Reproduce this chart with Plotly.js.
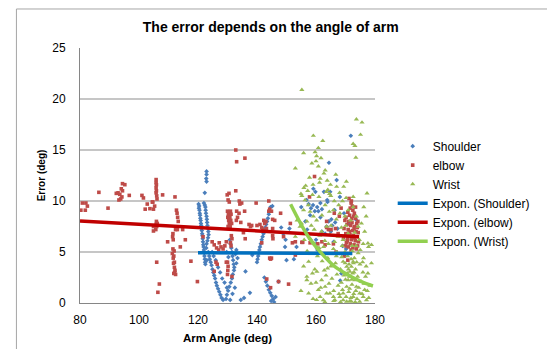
<!DOCTYPE html>
<html>
<head>
<meta charset="utf-8">
<script src="https://cdn.plot.ly/plotly-3.0.1.min.js"></script>
<style>html,body{margin:0;padding:0;background:#fff;}#chart{width:547px;height:349px;}</style>
</head>
<body>
<div id="chart"></div>
<script>
// ---- data ----
var seriesNames = ["Shoulder", "elbow", "Wrist"];
var trendNames = ["Expon. (Shoulder)", "Expon. (elbow)", "Expon. (Wrist)"];

var shoulderPts = [
[122.9,12.9],[122.9,12.6],[122.8,12.2],[122.9,11.9],[122.3,10.8],
[120.2,9.7],[120.4,9.5],[120.3,9.3],[120.5,9.1],[120.6,8.8],[120.7,8.6],[120.8,8.3],[120.9,8.1],[121.0,7.8],[121.1,7.6],[121.2,7.3],[121.3,7.1],[121.4,6.8],[121.5,6.6],[121.6,6.3],[121.7,6.0],[121.8,5.7],[121.9,5.5],[122.0,5.2],[122.1,4.9],[122.2,4.6],[122.3,4.3],[122.4,4.0],[122.5,3.8],
[122.0,9.8],[122.3,9.6],[122.5,9.4],[122.6,9.1],[122.7,8.8],[122.9,8.5],[123.0,8.2],[123.1,7.9],[123.2,7.6],[123.4,7.3],[123.5,7.0],[123.6,6.7],[123.4,6.4],[123.2,6.1],[122.9,5.8],[122.8,5.4],[123.0,4.2],
[123.5,5.0],[123.8,4.6],[124.0,4.3],[124.3,4.0],[124.6,3.7],[124.9,3.3],[125.2,3.0],[125.5,2.7],[125.8,2.4],[126.1,2.0],[126.4,1.7],[126.8,1.4],[127.2,1.1],[127.6,0.8],[128.0,0.5],[128.5,0.3],
[124.8,5.0],[125.3,4.6],[126.0,4.2],[126.8,3.5],[127.5,3.0],[128.2,2.4],[129.0,2.0],[129.8,1.5],
[130.8,6.2],[131.0,5.8],[131.3,5.4],[131.5,5.0],[131.7,4.6],[131.9,4.2],[132.1,3.8],[132.3,3.5],[132.2,3.2],[131.8,2.8],[131.5,2.4],[131.1,2.0],[130.6,1.6],[130.2,1.2],[129.8,0.8],[129.5,0.4],[130.9,0.3],[131.7,0.9],[132.5,1.5],[133.0,5.2],[132.7,4.8],[133.4,4.4],[133.0,3.9],[130.3,4.5],[129.7,5.0],
[135.6,0.5],[136.1,3.1],[134.5,0.3],[138.4,4.7],[137.6,1.0],
[140.0,4.0],[140.2,4.3],[140.4,4.6],[140.6,4.9],[140.8,5.2],[141.0,5.5],[141.3,5.8],
[141.6,6.2],[141.9,6.5],[142.2,6.8],[142.5,7.1],[142.8,7.4],[143.1,7.7],[143.4,8.0],[143.7,8.3],[144.0,8.7],[144.3,9.0],[144.6,9.4],[145.2,9.5],
[142.5,2.5],[143.0,2.1],[143.5,1.7],[144.0,1.3],[144.5,1.0],[145.0,0.7],[145.5,0.4],[145.8,0.1],[146.3,0.6],[144.8,0.2],[147.3,2.1],
[148.2,7.4],[148.9,6.8],[149.7,6.2],
[149.5,5.5],[150.0,4.2],[151.0,7.3],[152.5,4.3],[153.4,5.5],[155.0,9.4],[156.4,8.0],[157.0,7.2],[158.0,8.6],[159.1,11.2],[159.8,10.9],[160.0,6.2],[160.1,5.8],[160.3,5.4],[160.5,5.2],[160.8,9.0],[161.5,8.4],[162.0,7.0],[162.7,10.9],[163.1,6.8],[163.8,10.1],[163.9,9.9],[164.4,13.75],[164.8,10.9],[165.2,8.2],[165.5,7.6],[166.0,6.0],[166.3,9.1],[167.0,12.05],[167.3,7.3],[168.1,10.4],[168.2,2.2],[168.6,2.9],[169.0,5.6],[169.5,8.8],[170.2,5.3],[171.0,7.8],[171.8,16.4],[172.5,6.4],[173.5,8.2],
[156.8,10.1],[157.5,9.7],[158.3,9.3],[159.0,9.6],[159.6,9.0],[160.4,9.4],[161.5,9.8],[162.0,9.2],
[163.6,7.5],[164.3,8.0],[165.0,7.0],[166.5,7.9]
];

var elbowPts = [
[80.3,9.1],[80.8,9.8],[82.0,9.8],[82.5,9.5],[81.8,9.1],[86.4,10.85],[89.5,9.3],
[94.4,11.7],[95.2,11.6],[94.0,11.2],[94.4,11.0],[92.9,10.8],[92.3,10.75],[93.5,10.65],[93.8,10.2],[93.2,10.1],[96.7,10.55],[94.2,10.4],
[101.0,10.55],[101.5,10.3],[102.8,9.7],[104.5,9.9],[102.1,9.2],[103.7,9.25],[104.9,9.2],[104.9,7.5],[104.9,7.06],[104.7,9.9],[105.3,9.5],
[105.8,12.1],[105.8,11.8],[105.9,11.6],[105.8,11.3],[105.9,11.0],[105.8,10.8],[106.0,10.5],[106.1,10.2],
[105.9,8.0],[105.8,7.7],[106.0,7.5],[105.7,7.2],[106.2,7.8],
[108.0,10.6],[106.0,4.0],[106.9,1.86],[106.4,1.05],
[112.7,9.1],[112.9,8.8],[113.1,8.4],[113.3,8.0],[112.4,7.2],[113.0,7.2],[111.5,6.8],[111.4,6.5],[111.6,6.2],[114.8,7.2],[115.7,6.2],[109.7,6.0],[114.0,5.5],
[111.5,5.3],[111.9,5.1],[111.3,4.85],[111.8,4.6],[111.6,4.4],[112.0,4.0],[111.7,3.9],[112.0,3.5],[112.2,3.2],[112.1,3.0],[112.4,2.8],[111.8,2.9],
[112.2,10.4],[117.6,4.1],[119.8,2.1],[121.7,6.5],
[124.8,6.0],[125.5,5.7],[126.3,5.4],[127.2,5.9],[127.8,5.5],[127.0,5.2],[128.5,5.3],[129.1,5.6],[129.6,6.0],[126.1,4.0],[126.5,3.8],[125.5,3.1],
[130.5,10.75],[130.2,10.1],[130.0,9.0],[130.3,8.7],[130.1,8.4],[130.4,8.1],[130.6,7.8],[130.2,7.5],[130.0,4.0],[130.2,3.6],[130.1,3.2],[130.0,2.8],
[132.8,15.0],[133.1,13.85],[135.9,14.2],[129.9,10.6],[132.8,11.0],[130.6,9.9],
[131.0,9.0],[131.2,8.7],[130.8,8.4],[131.1,8.1],[131.4,7.8],[130.9,7.5],
[134.0,10.0],[134.8,9.8],[134.2,9.7],
[133.1,9.0],[133.9,8.8],[133.4,8.4],[133.0,8.1],[134.5,7.9],
[131.3,6.6],[131.5,6.3],[131.0,5.9],[131.2,5.6],[129.6,4.0],[131.5,2.6],
[135.8,9.0],[139.7,9.8],[144.0,10.0],[144.3,9.2],[144.0,9.0],[144.9,9.0],
[137.3,7.7],[138.2,7.6],[137.8,7.5],[142.3,8.1],[143.0,8.0],[142.6,7.8],
[140.0,7.6],[141.0,7.7],[141.6,7.4],[142.0,7.2],[143.2,7.3],
[145.3,8.2],[146.0,8.1],[148.0,8.8],[145.3,7.3],[145.3,6.6],[145.4,6.3],
[135.4,6.9],[136.0,6.3],[151.3,7.8],[149.0,6.5],[152.0,5.9],[153.0,6.0],[141.6,5.9],
[144.3,4.4],[144.9,4.4],[144.6,4.3],[143.3,2.35],[144.6,1.5],[147.3,2.1],[150.7,1.85],[153.0,4.7],[155.5,5.95],
[157.8,10.4],[159.5,12.4],[163.6,8.0],[164.2,7.2],[165.1,7.2],[166.6,7.3],[167.9,8.5],[163.1,5.7],[165.9,5.8],[155.2,5.95],
[171.2,10.25],[172.0,10.0],[171.9,9.8],[172.3,9.5],[171.6,9.3],[172.5,9.1],[170.8,8.9],[173.0,8.8],[171.4,8.6],[172.8,8.5],[170.2,8.4],[173.4,8.3],[169.8,8.1],[171.1,8.0],[172.2,7.9],[173.8,7.8],[170.5,7.7],[171.8,7.6],[173.1,7.5],[174.0,7.4],[169.5,7.3],[170.9,7.2],[172.4,7.1],[173.6,7.0],[174.3,6.9],[170.1,6.8],[171.5,6.7],[172.7,6.6],[173.9,6.5],[169.3,6.4],[170.7,6.3],[172.0,6.2],[173.3,6.1],[174.4,6.0],[170.3,5.9],[171.6,5.8],[172.9,5.7],[174.1,5.6],[171.0,5.5],[172.5,5.4],[173.7,5.3],[169.9,5.6],[171.3,7.0],[172.9,7.3],[173.4,9.4],[172.1,8.3],[170.6,6.1],[173.0,6.4],[171.9,5.2],[174.2,8.0],
[169.6,4.6],[170.8,4.2],[166.8,5.0],[168.5,9.3],[167.5,6.8],[166.2,8.8],[162.0,6.0],[160.6,5.8],[158.0,5.9],[163.6,7.4]
];

var wristPts = [
[155.2,20.9],[173.7,18.0],[175.6,17.7],[175.1,16.5],[172.6,15.6],[173.2,15.4],[173.5,14.25],[177.3,10.75],[178.8,5.7],[178.8,3.9],
[159.1,16.4],[162.3,15.9],[160.8,15.2],[159.7,14.8],[155.8,14.7],[160.2,14.4],[160.0,13.9],[158.6,13.7],[160.8,13.4],[153.0,13.2],[163.1,13.0],[162.7,12.7],[157.8,12.3],[161.4,12.2],
[156.5,11.5],[155.9,11.3],[159.0,11.6],[161.2,11.8],[163.5,10.9],[164.6,10.7],[165.0,10.5],[167.0,11.4],[169.4,11.4],[164.0,11.1],[154.9,10.7],[155.2,10.5],[172.6,10.4],[168.0,10.8],
[156.3,10.1],[157.4,9.6],[155.8,9.1],[158.0,8.95],[159.1,8.5],[156.9,8.0],[160.2,8.1],[163.1,9.6],[164.5,8.95],[165.9,9.1],[168.1,8.8],[169.8,8.5],[170.9,9.1],[172.6,9.4],[173.7,8.5],[174.3,7.5],[175.4,7.8],[176.5,7.0],
[163.6,7.5],[161.9,7.0],[164.7,6.7],[167.5,6.5],[169.2,6.2],[170.9,6.8],[172.4,6.5],[153.0,6.5],[154.6,7.5],[153.6,8.1],[177.6,5.85],[177.8,5.5],
[157.5,4.05],[156.9,2.58],[160.3,3.07],[161.9,2.25],[163.1,1.6],[163.6,0.95],[161.4,0.6],[162.5,0.29],[164.7,0.95],[165.9,0.6],[166.4,0.29],[168.1,0.6],[169.2,0.95],[170.4,1.6],[170.9,2.25],[171.5,3.07],[172.0,3.56],[172.6,4.05],[170.4,3.56],[169.2,4.05],[168.7,4.5],[167.0,5.0],[165.9,5.3],[169.8,5.0],[171.5,4.9],[173.2,2.25],[173.7,1.6],[174.8,0.95],[176.0,0.6],[176.5,1.3],[177.1,0.29],[174.8,0.13],[172.0,0.13],[170.4,0.13],[169.2,0.29],[157.5,0.95],[160.8,1.3],[156.9,2.25],
[158.3,1.9],[159.0,0.4],[159.6,3.3],[160.5,4.6],[161.0,5.4],[162.1,4.1],[162.8,3.2],[163.4,2.7],[164.0,4.4],[164.4,1.9],[165.0,3.6],[165.4,2.4],[166.0,1.2],[166.6,3.9],[167.1,2.8],[167.5,1.7],[167.8,0.9],[168.3,3.3],[168.6,2.0],[169.0,1.3],[169.5,2.7],[169.9,3.9],[170.2,0.6],[170.7,4.6],[171.1,1.1],[171.3,2.6],[171.8,0.5],[172.2,1.8],[172.4,2.9],[172.8,0.9],[173.0,4.4],[173.4,3.3],[173.9,0.4],[174.1,2.6],[174.5,1.5],[174.9,3.8],[175.3,2.1],[175.6,0.9],[175.9,3.0],[176.3,1.9],[176.8,2.6],[177.4,1.2],[177.9,0.5],[176.1,4.4],[175.0,5.2],[173.6,5.6],[172.3,5.1],[168.9,5.6],[166.3,6.0],[164.2,5.8],[162.6,5.5],[159.2,5.9],[158.1,6.3],[157.0,5.1],[155.8,3.6],[154.9,1.2],[158.8,2.9],[160.0,2.0],[161.6,1.5],[163.9,3.4],[166.9,4.6],[170.0,2.3],[171.0,3.3],[172.7,3.9],[174.3,4.9],[175.8,4.0],[177.6,2.9],[178.3,1.7],[177.0,3.6],[166.0,0.2],[168.3,0.1],[171.5,0.2],[173.3,0.1],[163.0,0.1],[160.2,0.3],
[165.1,7.6],[166.9,8.2],[168.6,7.4],[170.1,7.6],[171.7,8.1],[173.1,6.9],[174.7,6.2],[176.0,5.8],[163.0,6.1],[161.3,6.6],[159.4,7.2],[158.4,7.6],[162.0,8.6],[167.7,9.6],[169.0,10.0],[170.2,10.3],[166.2,10.0],[161.0,10.4],[158.8,10.6],[157.2,11.0],[176.2,9.4],[177.0,8.5],[155.1,7.8],[156.0,6.2],[163.8,12.0],[166.7,12.6],[161.7,14.2],[164.9,11.6],[170.3,11.9],
[171.4,1.4],[172.1,2.3],[172.9,3.0],[173.5,1.2],[171.9,4.3],[172.6,0.6],[170.6,2.9],[173.8,4.0],[172.3,5.6],[171.2,3.8]
];

// trend lines (exponential fits drawn in Excel)
var shoulderTrendX = [120.0, 172.3];
var shoulderTrendY = [4.93, 4.86];
var elbowTrendX = [80.0, 174.6];
var elbowTrendY = [8.05, 6.5];
var wristTrendX = [151.4, 157.4, 161.9, 166.4, 170.9, 175.4, 179.3];
var wristTrendY = [9.68, 6.5, 4.87, 3.56, 2.75, 2.09, 1.67];

var xTicks = [80, 100, 120, 140, 160, 180];
var yTicks = [0, 5, 10, 15, 20, 25];

// ---- build traces ----
function col(pts, i) { return pts.map(function (p) { return p[i]; }); }

var FONT = "Liberation Sans, Arial, sans-serif";

var traces = [
  {type: "scatter", mode: "markers", name: seriesNames[0], x: col(shoulderPts, 0), y: col(shoulderPts, 1),
   marker: {symbol: "diamond", size: 3.6, color: "#4A7EBB"}},
  {type: "scatter", mode: "markers", name: seriesNames[1], x: col(elbowPts, 0), y: col(elbowPts, 1),
   marker: {symbol: "square", size: 3.6, color: "#BE4B48"}},
  {type: "scatter", mode: "markers", name: seriesNames[2], x: col(wristPts, 0), y: col(wristPts, 1),
   marker: {symbol: "triangle-up", size: 4.6, color: "#98B954"}},
  {type: "scatter", mode: "lines", name: trendNames[0], x: shoulderTrendX, y: shoulderTrendY,
   line: {color: "#0070C0", width: 3.5}},
  {type: "scatter", mode: "lines", name: trendNames[1], x: elbowTrendX, y: elbowTrendY,
   line: {color: "#C00000", width: 3.5}},
  {type: "scatter", mode: "lines", name: trendNames[2], x: wristTrendX, y: wristTrendY,
   line: {color: "#92D050", width: 3.5, shape: "spline"}}
];

var layout = {
  width: 547, height: 349,
  margin: {l: 80, r: 170, t: 48, b: 46},
  paper_bgcolor: "#ffffff", plot_bgcolor: "#ffffff",
  font: {family: FONT, size: 11, color: "#000000"},
  title: {text: "<b>The error depends on the angle of arm</b>", font: {family: FONT, size: 14, color: "#000"},
          x: 0.495, xanchor: "center", y: 0.923, yanchor: "middle", yref: "container"},
  showlegend: true,
  legend: {x: 1.06, xanchor: "left", y: 0.672, yanchor: "top", font: {family: FONT, size: 12},
           tracegroupgap: 0, bgcolor: "rgba(0,0,0,0)", itemsizing: "trace"},
  xaxis: {range: [80, 180], tickvals: xTicks, ticktext: xTicks.map(String), showgrid: false, zeroline: false,
          showline: true, linecolor: "#868686", linewidth: 1, ticks: "", ticklabelstandoff: 6,
          tickfont: {family: FONT, size: 12},
          title: {text: "<b>Arm Angle (deg)</b>", font: {family: FONT, size: 11.5}, standoff: 7}},
  yaxis: {range: [0, 25], tickvals: yTicks, ticktext: yTicks.map(String), showgrid: true, gridcolor: "#C6C6C6", gridwidth: 1.5,
          zeroline: false, showline: true, linecolor: "#868686", linewidth: 1, ticks: "", ticklabelstandoff: 11,
          tickfont: {family: FONT, size: 12},
          title: {text: "<b>Error (deg)</b>", font: {family: FONT, size: 10}, standoff: 4}},
  shapes: [
    {type: "rect", xref: "paper", yref: "paper", x0: -0.2155, x1: 2.0, y0: -0.6, y1: 1.153,
     line: {color: "#A6A6A6", width: 1}, fillcolor: "rgba(0,0,0,0)", layer: "below"}
  ]
};

Plotly.newPlot("chart", traces, layout, {displayModeBar: false, staticPlot: true});
</script>
</body>
</html>
